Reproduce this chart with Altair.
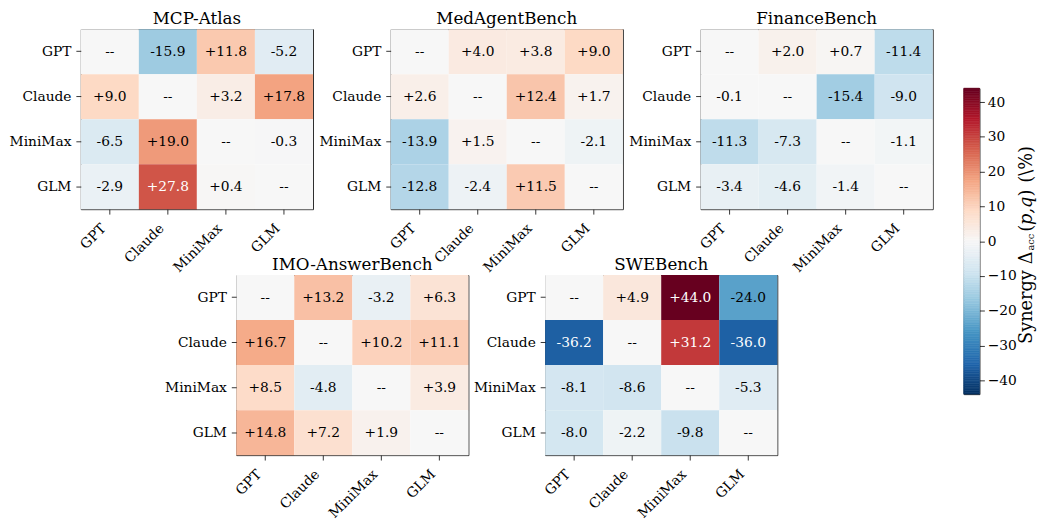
import altair as alt
import numpy as np
import pandas as pd

FONT = "DejaVu Serif"
MODELS = ["GPT", "Claude", "MiniMax", "GLM"]

# rows = first agent (y), columns = second agent (x); None = diagonal ("--")
MCP_ATLAS = [
    [None, -15.9, 11.8, -5.2],
    [9.0, None, 3.2, 17.8],
    [-6.5, 19.0, None, -0.3],
    [-2.9, 27.8, 0.4, None],
]
MED_AGENT = [
    [None, 4.0, 3.8, 9.0],
    [2.6, None, 12.4, 1.7],
    [-13.9, 1.5, None, -2.1],
    [-12.8, -2.4, 11.5, None],
]
FINANCE = [
    [None, 2.0, 0.7, -11.4],
    [-0.1, None, -15.4, -9.0],
    [-11.3, -7.3, None, -1.1],
    [-3.4, -4.6, -1.4, None],
]
IMO_ANSWER = [
    [None, 13.2, -3.2, 6.3],
    [16.7, None, 10.2, 11.1],
    [8.5, -4.8, None, 3.9],
    [14.8, 7.2, 1.9, None],
]
SWE = [
    [None, 4.9, 44.0, -24.0],
    [-36.2, None, 31.2, -36.0],
    [-8.1, -8.6, None, -5.3],
    [-8.0, -2.2, -9.8, None],
]

VMAX = 44.0
CBAR_TICKS = [-40, -30, -20, -10, 0, 10, 20, 30, 40]
RDBU_R = ["#053061", "#2166ac", "#4393c3", "#92c5de", "#d1e5f0", "#f7f7f7",
          "#fddbc7", "#f4a582", "#d6604d", "#b2182b", "#67001f"]
COLOR_DOMAIN = [float(v) for v in np.linspace(-VMAX, VMAX, len(RDBU_R))]

PW, PH = 236, 183


def cscale():
    return alt.Scale(domain=COLOR_DOMAIN, range=RDBU_R, interpolate="rgb", clamp=True)


def blank(w, h):
    return alt.Chart(pd.DataFrame({"v": [0]})).mark_point(opacity=0).encode(
        x=alt.value(0), y=alt.value(0)
    ).properties(width=w, height=h, view=alt.ViewBackground(stroke="transparent"))


def panel(title, matrix):
    rows = []
    for i, p in enumerate(MODELS):
        for j, q in enumerate(MODELS):
            v = matrix[i][j]
            rows.append({
                "p": p, "q": q,
                "val": 0.0 if v is None else v,
                "label": "--" if v is None else f"{v:+.1f}",
                "dark": bool(v is not None and abs(v) > 0.6 * VMAX),
            })
    df = pd.DataFrame(rows)
    xaxis = alt.Axis(title=None, labelAngle=-45, labelAlign="right", labelBaseline="middle",
                     labelOffset=-6, labelPadding=12, tickSize=5, tickWidth=0.8,
                     tickColor="black", domain=False, grid=False, labelFont=FONT,
                     labelFontSize=14, labelColor="black")
    yaxis = alt.Axis(title=None, labelPadding=5, tickSize=5, tickWidth=0.8,
                     tickColor="black", domain=False, grid=False, labelFont=FONT,
                     labelFontSize=14, labelColor="black")
    base = alt.Chart(df).encode(
        x=alt.X("q:N", sort=MODELS, scale=alt.Scale(paddingInner=0, paddingOuter=0), axis=xaxis),
        y=alt.Y("p:N", sort=MODELS, scale=alt.Scale(paddingInner=0, paddingOuter=0), axis=yaxis),
    )
    rect = base.mark_rect().encode(color=alt.Color("val:Q", scale=cscale(), legend=None))
    text = base.mark_text(font=FONT, fontSize=14).encode(
        text="label:N",
        color=alt.condition("datum.dark", alt.value("white"), alt.value("black")),
    )
    return alt.layer(rect, text).properties(
        width=PW, height=PH,
        title=alt.TitleParams(title, font=FONT, fontSize=17, fontWeight="normal",
                              color="black", anchor="middle", baseline="alphabetic", offset=-12),
    )


# colorbar
edges = np.linspace(-VMAX, VMAX, 177)
cb_df = pd.DataFrame({"lo": edges[:-1], "hi": edges[1:]})
cb_df["mid"] = (cb_df["lo"] + cb_df["hi"]) / 2

cb_rect = alt.Chart(cb_df).mark_rect(strokeWidth=0.6).encode(
    x=alt.value(0), x2=alt.value(16),
    y=alt.Y("lo:Q", scale=alt.Scale(domain=[-VMAX, VMAX], nice=False, zero=False),
            axis=alt.Axis(orient="right", values=CBAR_TICKS, title=None, tickSize=5,
                          tickWidth=0.8, tickColor="black", labelPadding=3, domain=False,
                          grid=False, labelFont=FONT, labelFontSize=14, labelColor="black")),
    y2="hi:Q",
    color=alt.Color("mid:Q", scale=cscale(), legend=None),
    stroke=alt.Stroke("mid:Q", scale=cscale(), legend=None),
)


def piece(txt, x, y, size, style="normal"):
    return alt.Chart(pd.DataFrame({"t": [txt]})).mark_text(
        angle=270, align="left", baseline="alphabetic", font=FONT, fontSize=size,
        fontStyle=style, color="black",
    ).encode(text="t:N", x=alt.value(x), y=alt.value(y))


cb_title = [
    piece("Synergy", 69, 260, 18),
    piece("Δ", 69, 179, 18),
    piece("acc", 71.5, 165, 10),
    piece("(", 69, 146, 18),
    piece("p,q", 69, 139, 18, "italic"),
    piece(")", 69, 110, 18),
    piece("(\\%)", 69, 96, 18),
]
cbar = alt.layer(cb_rect, *cb_title).properties(width=16, height=311)

row1 = alt.hconcat(panel("MCP-Atlas", MCP_ATLAS), panel("MedAgentBench", MED_AGENT),
                   panel("FinanceBench", FINANCE), spacing=79, bounds="flush")
row2 = alt.hconcat(blank(79.5, 10), panel("IMO-AnswerBench", IMO_ANSWER), panel("SWEBench", SWE),
                   spacing=78, bounds="flush")
main = alt.vconcat(row1, row2, spacing=-31.7)
cbcol = alt.vconcat(blank(16, 60), cbar, spacing=0, bounds="flush")

chart = alt.hconcat(main, cbcol, spacing=26.5).properties(
    padding={"top": -3, "left": 0, "right": 0, "bottom": 30},
    background="white",
).configure_view(stroke="#222222", strokeWidth=1)

chart.save("out.html", embed_options={"renderer": "svg", "actions": False})
